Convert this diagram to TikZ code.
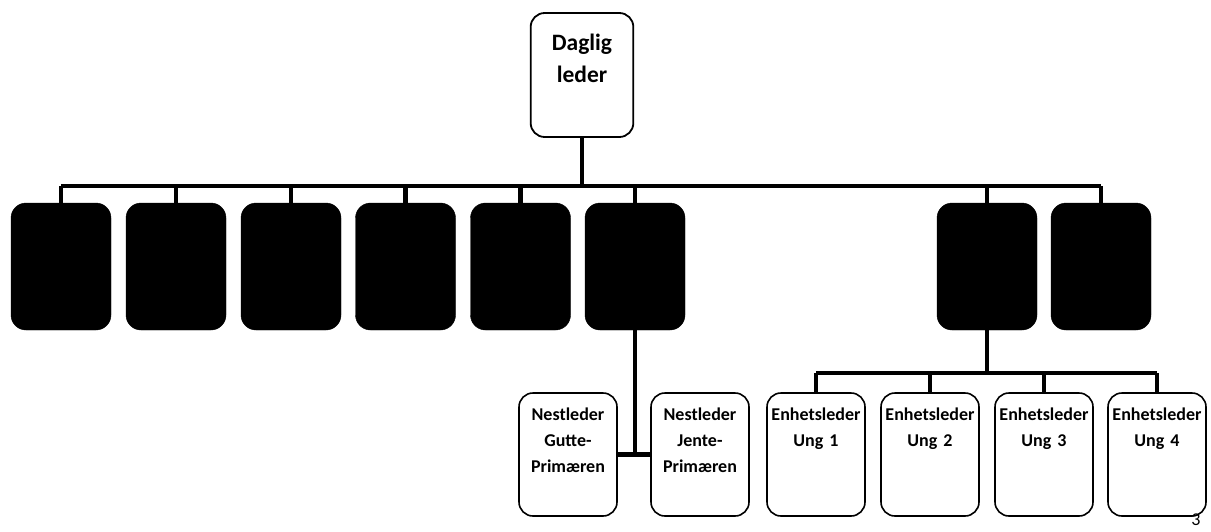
\documentclass[tikz,border=0pt]{standalone}
\usepackage{fontspec}
\setmainfont{Carlito}
\usepackage{tikz}
\usetikzlibrary{positioning}
\tikzstyle{chief} = [rectangle, rounded corners=14pt, draw=black, line width=1.8pt, fill=white, text width=96pt, align=center, inner ysep=0pt, text height=37pt, text depth=87pt, font=\bfseries\fontsize{23.5}{32}\selectfont]
\tikzstyle{hidden} = [rectangle, rounded corners=15pt, draw=black, fill=black, minimum width=100pt, minimum height=127pt]
\tikzstyle{unit} = [rectangle, rounded corners=14pt, draw=black, line width=1.6pt, fill=white, text width=98pt, align=center, inner xsep=0pt, inner ysep=0pt, text height=27pt, text depth=96pt, font=\bfseries\fontsize{18}{26}\selectfont]
\tikzstyle{bus} = [line width=4.5pt]

\begin{document}
\begin{tikzpicture}[x=1pt,y=-1pt]
\useasboundingbox (0,0) rectangle (1211,531);

\node (dl) [chief] at (582,75) {Daglig\\leder};

\node (b1) [hidden] at (61,266.5) {};
\node (b2) [hidden] at (176,266.5) {};
\node (b3) [hidden] at (291,266.5) {};
\node (b4) [hidden] at (405.5,266.5) {};
\node (b5) [hidden] at (520.5,266.5) {};
\node (b6) [hidden] at (635,266.5) {};
\node (b7) [hidden] at (987,266.5) {};
\node (b8) [hidden] at (1101,266.5) {};

\node (ngp) [unit] at (568,454.5) {Nestleder\\Gutte-\\Primæren};
\node (njp) [unit] at (700,454.5) {Nestleder\\Jente-\\Primæren};
\node (eu1) [unit] at (816,454.5) {Enhetsleder\\Ung 1};
\node (eu2) [unit] at (930,454.5) {Enhetsleder\\Ung 2};
\node (eu3) [unit] at (1044,454.5) {Enhetsleder\\Ung 3};
\node (eu4) [unit] at (1157,454.5) {Enhetsleder\\Ung 4};

\node (pg) [anchor=south, inner sep=1pt, font=\fontsize{18}{20}\selectfont] at (1196,527) {3};

% top level
\coordinate (top) at (582,186);
\draw [bus] (dl.south) -- (top);
\draw [bus] (b1.north |- top) -- (b8.north |- top);
\foreach \b in {b1,b2,b3,b4,b5,b6,b7,b8}
  \draw [bus] (\b.north |- top) -- (\b.north);

% nestledere
\draw [bus] (b6.south) -- (b6.south |- ngp.east);
\draw [bus] (ngp.east) -- (njp.west);

% enhetsledere
\coordinate (ung) at (987,373);
\draw [bus] (b7.south) -- (ung);
\draw [bus] (eu1.north |- ung) -- (eu4.north |- ung);
\foreach \e in {eu1,eu2,eu3,eu4}
  \draw [bus] (\e.north |- ung) -- (\e.north);
\end{tikzpicture}
\end{document}
